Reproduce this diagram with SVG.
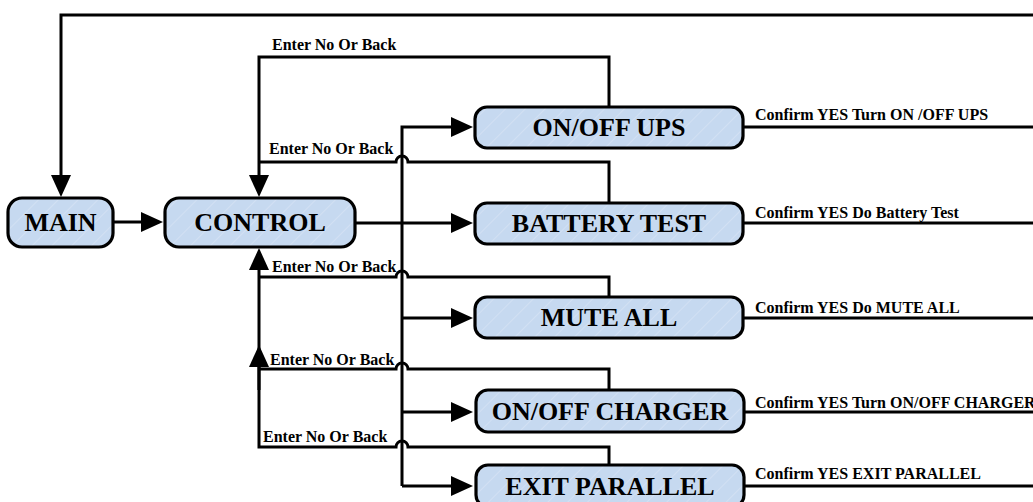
<svg xmlns="http://www.w3.org/2000/svg" width="1033" height="502" viewBox="0 0 1033 502">
<style>
.node rect{fill:url(#hatch);stroke:#000;stroke-width:3.2}
.node text{font-family:"Liberation Serif","Times New Roman",serif;font-weight:bold;font-size:26px;text-anchor:middle;fill:#000}
.conn path{fill:none;stroke:#000;stroke-width:3}
.lbl{font-family:"Liberation Serif","Times New Roman",serif;font-weight:bold;font-size:16px;fill:#000}
.arr{marker-end:url(#ah)}
</style>
<defs>
<pattern id="hatch" patternUnits="userSpaceOnUse" width="14" height="14" patternTransform="rotate(45)">
<rect width="14" height="14" fill="#c6d9f0"/>
<line x1="0" y1="0" x2="0" y2="14" stroke="#dbe6f5" stroke-width="1.2"/>
</pattern>
<marker id="ah" markerUnits="userSpaceOnUse" markerWidth="24" markerHeight="22" refX="2" refY="10" orient="auto" viewBox="0 0 24 22">
<path d="M0,0 L22,10 L0,20 z" fill="#000"/>
</marker>
</defs>
<g class="conn" id="connectors">
<path d="M1033,15 H61 V177" class="arr"/>
<path d="M113,222 H143" class="arr"/>
<path d="M355,223 H453" class="arr"/>
<path d="M402,486 V127 H453" class="arr"/>
<path d="M402,318 H453" class="arr"/>
<path d="M402,412 H453" class="arr"/>
<path d="M402,486 H453" class="arr"/>
<path d="M609,107 V57 H259 V177" class="arr"/>
<path d="M609,203 V162 H408 A6,6 0 0 0 396,162 H259"/>
<path d="M609,297 V277 H408 A6,6 0 0 0 396,277 H259"/>
<path d="M609,390 V369 H408 A6,6 0 0 0 396,369 H259"/>
<path d="M609,465 V447 H408 A6,6 0 0 0 396,447 H259 V268" class="arr"/>
<path d="M259,390 V365" class="arr"/>
<path d="M743,127 H1033"/>
<path d="M743,223 H1033"/>
<path d="M743,318 H1033"/>
<path d="M744,412 H1033"/>
<path d="M744,486 H1033"/>
</g>
<g id="labels">
<text class="lbl" x="272" y="50">Enter No Or Back</text>
<text class="lbl" x="269" y="154">Enter No Or Back</text>
<text class="lbl" x="272" y="272">Enter No Or Back</text>
<text class="lbl" x="270" y="365">Enter No Or Back</text>
<text class="lbl" x="263" y="442">Enter No Or Back</text>
<text class="lbl" x="755" y="120">Confirm YES Turn ON /OFF UPS</text>
<text class="lbl" x="755" y="218">Confirm YES Do Battery Test</text>
<text class="lbl" x="755" y="313">Confirm YES Do MUTE ALL</text>
<text class="lbl" x="755" y="408">Confirm YES Turn ON/OFF CHARGER</text>
<text class="lbl" x="755" y="479">Confirm YES EXIT PARALLEL</text>
</g>
<g class="node" id="main"><rect x="8" y="198" width="105" height="49" rx="14"/><text x="60.5" y="231">MAIN</text></g>
<g class="node" id="control"><rect x="165" y="198" width="190" height="49" rx="14"/><text x="260" y="231">CONTROL</text></g>
<g class="node" id="onoff-ups"><rect x="475" y="107" width="268" height="41" rx="12"/><text x="609" y="136">ON/OFF UPS</text></g>
<g class="node" id="battery-test"><rect x="475" y="203" width="268" height="41" rx="12"/><text x="609" y="232">BATTERY TEST</text></g>
<g class="node" id="mute-all"><rect x="475" y="297" width="268" height="41" rx="12"/><text x="609" y="326">MUTE ALL</text></g>
<g class="node" id="onoff-charger"><rect x="476" y="390" width="268" height="42" rx="12"/><text x="610" y="420">ON/OFF CHARGER</text></g>
<g class="node" id="exit-parallel"><rect x="476" y="465" width="268" height="42" rx="12"/><text x="610" y="495">EXIT PARALLEL</text></g>
</svg>
